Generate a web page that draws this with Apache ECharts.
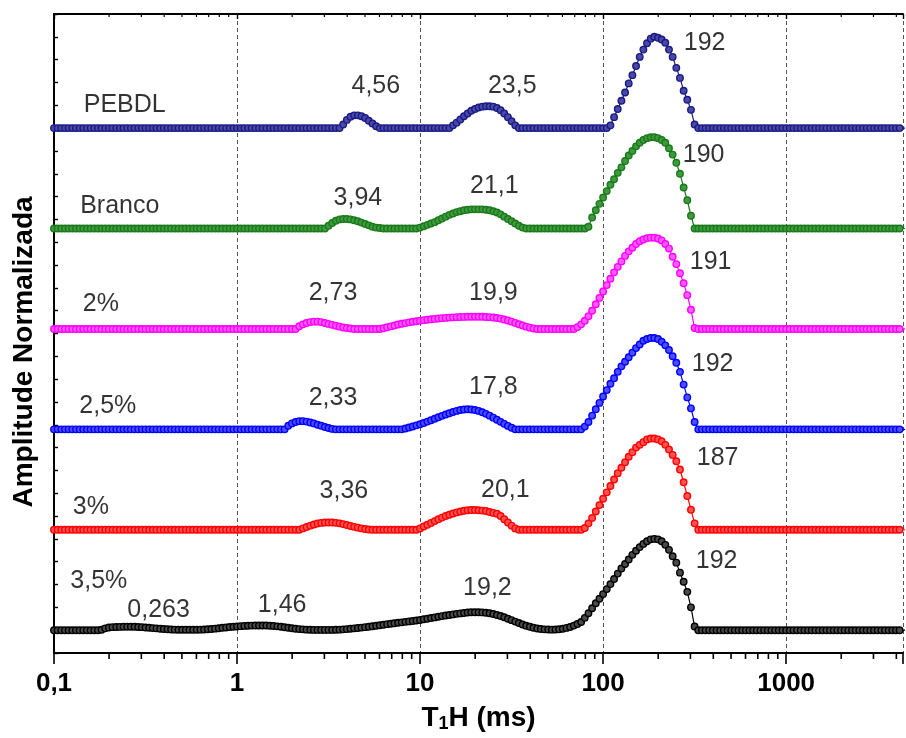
<!DOCTYPE html>
<html>
<head>
<meta charset="utf-8">
<script src="https://cdn.jsdelivr.net/npm/echarts@6/dist/echarts.min.js"></script>
<style>
html,body{margin:0;padding:0;background:#fff;}
#chart{width:906px;height:738px;}
</style>
</head>
<body>
<div id="chart"></div>
<script>
// ---- sampling grid of the T1 distribution (log-spaced, as produced by the inversion) ----
const pointsPerDecade = 50;
const t1Start = 0.1;
const nPoints = 251;

// ---- x axis ----
const xMin = 0.1;
const xMax = 4350;
const majorTickLabels = [0.1, 1, 10, 100, 1000];
const minorTickValues = [0.2,0.3,0.4,0.5,0.6,0.7,0.8,0.9, 2,3,4,5,6,7,8,9, 20,30,40,50,60,70,80,90, 200,300,400,500,600,700,800,900, 2000,3000,4000];

// ---- series (normalized amplitude, %), given as [start grid index, values...]; zero elsewhere ----
const seriesNames = ['PEBDL', 'Branco', '2%', '2,5%', '3%', '3,5%'];
const seriesOffsets = [575, 465, 355, 245, 135, 25];

const pebdlSegments = [
  [78, [0,4,9,12.5,14,14,13,11,8,5,2,0]],
  [108, [0,3,6,9.5,13,16,19,21,22.5,23.5,24,24,23.5,22,19.5,16,12,7.5,3,0]],
  [152, [3,12,21,30,39,49,58,68,78,86,93,98,100,99,97,93.5,86,78,66,55,41,31,20,4,0]]
];
const brancoSegments = [
  [74, [0,3,6,8.5,10,10.5,10.5,10,9,8,6.5,5,3.5,2,1,0.5,0]],
  [99, [0,1,2.5,4,5.5,7,9,11,13,15,16.5,18,19,20,20.5,21,21,21,21,20.5,20,19,17.5,15.5,13,10.5,8,5.5,3,1,0]],
  [146, [2,12,20,27,34,41,48,54,61,67,74,80,85,90,94,97,99,100,100,99,97,94,88,81,72,60,45,31,14,0]]
];
const p2Segments = [
  [66, [0,3,5,6.5,7.5,8,8,7.5,6.5,5.5,4.5,3.5,2.5,1.5,1,0.5,0]],
  [89, [0,0.8,1.8,2.8,3.8,4.8,5.6,6.4,7.2,7.9,8.5,9.1,9.6,10.1,10.6,11,11.4,11.8,12.1,12.4,12.7,12.9,13.1,13.2,13.3,13.4,13.4,13.4,13.3,13.1,12.9,12.5,12,11.3,10.4,9.3,8,6.6,5.2,3.8,2.5,1.4,0.5,0]],
  [142, [0,2,5,9,14,20,27,34,41,48,55,62,68,74,80,85,89,93,96,98,99.5,100,100,99,97,93,88,79,71,61,50,37,21,1,0]]
];
const p25Segments = [
  [63, [0,4,6.5,8,9,9,8.5,7.5,6.5,5,4,2.5,1.5,0.5,0]],
  [95, [0,1,2,3.2,4.4,5.6,7,8.5,10,11.6,13.2,14.8,16.3,17.7,19,20.2,21.2,21.8,22,21.8,21.2,20.2,18.8,17,15,12.8,10.5,8.2,6,3.8,1.8,0]],
  [144, [0,3,8,15,22,29,36,43,50,56,63,69,74,79,84,89,93,97,99,100,100,99,96,92,87,80,73,63,49,35,23,8,0]]
];
const p3Segments = [
  [67, [0,1.5,3,4.5,5.8,6.8,7.5,8,8,8,7.6,7,6.2,5.2,4.2,3.2,2.3,1.5,0.8,0.3,0]],
  [99, [0,1.5,3.5,5.5,7.5,9.5,11.5,13.3,15,16.5,17.8,19,20,20.8,21.3,21.6,21.6,21.3,21,20.5,19.5,18.5,17.5,15,11.5,8,4.5,1.5,0]],
  [144, [0,2,7,13,20,27,34,41,48,55,62,68,74,80,85,90,93,96,99,100,100,99,97,93,88,82,75,66,52,37,22,7,0]]
];
const p35Segments = [
  [13, [0.5,2,3,3.3,3.5,3.6,3.7,3.8,3.8,3.7,3.5,3.3,3,2.7,2.3,2,1.6,1.3,1,0.8,0.6,0.5,0.4,0.4,0.4,
        0.4,0.5,0.6,0.8,1,1.3,1.7,2.1,2.6,3,3.4,3.8,4.1,4.4,4.7,4.9,5,5.1,5.2,5.2,5.1,4.9,4.6,4.2,3.7,3.2,2.6,2.1,1.6,1.2,0.9,0.6,0.4,0.3,0.3,0.3,0.3,
        0.3,0.3,0.4,0.6,0.9,1.2,1.6,2,2.4,2.8,3.3,3.8,4.3,4.8,5.4,6,6.6,7.1,7.6,8.1,8.6,9.1,9.6,10.1,10.6,11.2,
        11.9,12.6,13.3,14,14.7,15.4,16.1,16.7,17.3,17.9,18.4,18.9,19.3,19.6,19.7,19.7,19.5,19.1,18.5,17.7,16.7,15.5,14.1,12.6,11,9.4,7.8,6.3,4.9,3.7,2.7,1.9,1.3,0.9,0.7,0.6,0.7,1,1.6,2.5,
        3.5,5,6.8,9,13.5,18.5,24,29.5,34.5,39.5,45,50.5,56,62,67.5,72.5,77.5,82.5,87,91,94.5,97.5,99.5,100,99.5,97.5,93.5,88,81,74,63,53,42,25,4,0]]
];
const allSegments = [pebdlSegments, brancoSegments, p2Segments, p25Segments, p3Segments, p35Segments];

// ---- peak / sample annotations: text, T1 (ms), amplitude-axis value ----
const annotationTexts = ['PEBDL','4,56','23,5','192','Branco','3,94','21,1','190','2%','2,73','19,9','191','2,5%','2,33','17,8','192','3%','3,36','20,1','187','3,5%','0,263','1,46','19,2','192'];
const annotationT1 =   [0.2435,5.73,31.9,358.6,0.2287,4.574,25.47,354.2,0.1803,3.343,25.16,386.8,0.1968,3.343,25.16,396.6,0.159,3.838,29.24,422.3,0.1758,0.3728,1.765,23.33,417];
const annotationAmp =  [600,621,621,668,490,498,512,545,382,394,394,428,271,279,291,317,160,177,178,213,79,47,52.5,71,101];

// ---- styles ----
const lineColors = ['#1a1a85', '#1a7a1a', '#ff00ff', '#0000ff', '#ff0000', '#000000'];
const fillColors = ['#4a4aa6', '#3f993f', '#ff5cff', '#4d4dff', '#ff5252', '#4a4a4a'];
const FONT = 'Liberation Sans, Arial, sans-serif';

const t1Grid = [];
for (let i = 0; i < nPoints; i++) t1Grid.push(t1Start * Math.pow(10, i / pointsPerDecade));

function buildSeriesData(segments, offset) {
  const amp = new Array(nPoints).fill(0);
  segments.forEach(([start, vals]) => vals.forEach((v, k) => { amp[start + k] = v; }));
  return t1Grid.map((t, i) => [t, amp[i] + offset]);
}

const series = seriesNames.map((name, s) => ({
  name: name,
  type: 'line',
  data: buildSeriesData(allSegments[s], seriesOffsets[s]),
  showSymbol: true,
  showAllSymbol: true,
  symbol: 'circle',
  symbolSize: 6.5,
  lineStyle: { color: lineColors[s], width: 1.2 },
  itemStyle: { color: fillColors[s], borderColor: lineColors[s], borderWidth: 1.4 },
  emphasis: { disabled: true },
  silent: true,
  z: 3
}));

series.push({
  type: 'scatter',
  symbolSize: 0,
  silent: true,
  z: 10,
  data: annotationTexts.map((t, k) => ({ name: t, value: [annotationT1[k], annotationAmp[k]] })),
  label: {
    show: true, position: 'inside', formatter: p => p.name,
    fontFamily: FONT, fontSize: 25, color: '#000', textBorderWidth: 0
  }
});

// minor ticks on the log axis (2..9 of each decade), bottom (outward) and top (inward)
series.push({
  type: 'custom',
  silent: true,
  z: 5,
  data: minorTickValues.map(v => [v, 0]),
  encode: { x: 0, y: 1 },
  renderItem: function (params, api) {
    const v = api.value(0);
    const pb = api.coord([v, 0]);
    const pt = api.coord([v, 700]);
    return {
      type: 'group',
      children: [
        { type: 'line', shape: { x1: pb[0], y1: pb[1], x2: pb[0], y2: pb[1] + 6 }, style: { stroke: '#000', lineWidth: 1.6 } },
        { type: 'line', shape: { x1: pt[0], y1: pt[1], x2: pt[0], y2: pt[1] + 3 }, style: { stroke: '#000', lineWidth: 1.2 } }
      ]
    };
  }
});

const chart = echarts.init(document.getElementById('chart'), null, { renderer: 'canvas' });
chart.setOption({
  animation: false,
  backgroundColor: '#fff',
  grid: { left: 54, right: 0, top: 14, bottom: 84, containLabel: false },
  xAxis: [{
    type: 'log', logBase: 10, min: xMin, max: xMax, position: 'bottom',
    axisLine: { lineStyle: { color: '#000', width: 2 } },
    axisTick: { show: true, inside: false, length: 11, lineStyle: { color: '#000', width: 1.6 } },
    axisLabel: {
      margin: 18, fontFamily: FONT, fontSize: 26, fontWeight: 'bold', color: '#000',
      formatter: function (v) {
        const hit = majorTickLabels.find(m => Math.abs(Math.log10(v) - Math.log10(m)) < 1e-6);
        return hit === undefined ? '' : String(hit).replace('.', ',');
      }
    },
    splitLine: { show: true, lineStyle: { color: '#555', width: 1, type: [4, 3] } },
    name: '{t|T}{s|1}{t|H (ms)}',
    nameLocation: 'middle',
    nameGap: 50,
    nameTextStyle: {
      rich: {
        t: { fontFamily: FONT, fontSize: 28, fontWeight: 'bold', color: '#000' },
        s: { fontFamily: FONT, fontSize: 18, fontWeight: 'bold', color: '#000', padding: [12, 0, 0, 0] }
      }
    }
  }, {
    type: 'log', logBase: 10, min: xMin, max: xMax, position: 'top',
    axisLine: { lineStyle: { color: '#000', width: 2 } },
    axisTick: { show: true, inside: true, length: 5, lineStyle: { color: '#000', width: 1.4 } },
    axisLabel: { show: false },
    splitLine: { show: false }
  }],
  yAxis: {
    type: 'value', min: 0, max: 700, interval: 25,
    axisLine: { show: true, lineStyle: { color: '#000', width: 2 } },
    axisTick: { show: true, inside: true, length: 4, lineStyle: { color: '#000', width: 1.4 } },
    axisLabel: { show: false },
    splitLine: { show: false }
  },
  graphic: [{
    type: 'text',
    x: 24, y: 352,
    rotation: Math.PI / 2,
    style: {
      text: 'Amplitude Normalizada',
      fontFamily: FONT, fontSize: 28, fontWeight: 'bold', fill: '#000',
      align: 'center', verticalAlign: 'middle'
    }
  }],
  series: series
});
</script>
</body>
</html>
